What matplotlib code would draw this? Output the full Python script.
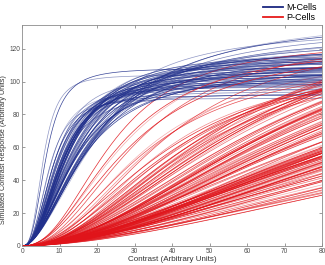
import numpy as np
import matplotlib
matplotlib.use('Agg')
import matplotlib.pyplot as plt
from matplotlib.lines import Line2D

plt.rcParams['font.family'] = ['Liberation Sans', 'DejaVu Sans']

# Naka-Rushton parameters (half-saturation contrast, max response, exponent)
blue_c50 = [5.6, 6.4, 11.4, 14.2, 9.3, 16.8, 12.0, 8.2, 15.1, 11.7,
            18.5, 10.2, 13.1, 7.4, 13.8, 10.6, 20.5, 15.6, 9.0, 12.4,
            8.7, 16.0, 11.2, 13.4, 19.0, 9.8, 14.6, 11.9, 21.5, 10.9,
            13.9, 7.9, 17.2, 12.8, 9.6, 15.3, 11.0, 17.8, 13.3, 10.1,
            12.5, 14.4, 7.0, 19.6, 10.7, 13.6, 16.3, 9.4, 12.2, 15.0,
            10.4, 17.9, 8.5, 14.0, 12.7, 16.1, 10.0, 20.0, 11.6, 15.4,
            12.1, 13.7, 9.1, 17.0, 11.3, 14.8, 12.9, 9.9, 16.6, 13.5]
blue_rmax = [104, 108, 112, 118, 102, 132, 110, 97, 115, 106,
             124, 100, 113, 95, 117, 108, 138, 111, 99, 114,
             103, 122, 107, 116, 130, 98, 112, 109, 140, 105,
             114, 92, 120, 110, 101, 121, 104, 126, 111, 96,
             113, 107, 90, 130, 102, 115, 109, 100, 116, 120,
             105, 118, 94, 108, 117, 113, 99, 134, 110, 106,
             114, 103, 98, 119, 107, 111, 116, 93, 125, 109]
blue_n = [3.0, 2.8, 2.2, 2.0, 2.4, 1.9, 2.3, 2.5, 2.1, 2.2,
          1.9, 2.4, 2.1, 2.6, 2.0, 2.3, 1.8, 2.0, 2.5, 2.2,
          2.4, 1.9, 2.3, 2.1, 1.8, 2.4, 2.0, 2.2, 1.8, 2.3,
          2.1, 2.6, 1.9, 2.2, 2.4, 2.0, 2.3, 1.9, 2.1, 2.5,
          2.2, 2.0, 2.7, 1.8, 2.3, 2.1, 1.9, 2.4, 2.2, 2.0,
          2.3, 1.9, 2.5, 2.1, 2.2, 1.9, 2.4, 1.8, 2.3, 2.0,
          2.2, 2.1, 2.5, 1.9, 2.3, 2.0, 2.2, 2.4, 1.9, 2.1]

red_c50 = [28, 95, 132, 61, 110, 148, 44, 87, 121, 70,
           102, 156, 35, 79, 139, 93, 117, 52, 126, 84,
           145, 66, 108, 24, 98, 135, 74, 113, 159, 48,
           90, 128, 57, 104, 142, 82, 31, 119, 96, 152,
           68, 111, 137, 40, 86, 124, 100, 63, 147, 77,
           115, 92, 130, 54, 106, 154, 38, 81, 122, 99,
           141, 72, 118, 26, 89, 133, 105, 59, 150, 85,
           127, 46, 97, 144, 76, 112, 33, 101, 138, 65,
           88, 157, 50, 120, 94, 131, 71, 107, 146, 42,
           83, 125, 103, 60, 140, 91, 114, 36, 129, 78,
           153, 67, 109, 29, 97, 136, 55, 116, 143, 80,
           99, 123, 47, 134, 87, 151, 73, 110, 39, 126,
           62, 106, 149, 93, 118, 32, 85, 139, 102, 56,
           131, 75, 112, 45, 155, 95, 121, 69, 104, 143]
red_rmax = [128, 170, 170, 150, 160, 150, 125, 160, 175, 150,
            155, 140, 120, 165, 165, 158, 180, 140, 158, 170,
            150, 160, 148, 125, 180, 195, 155, 152, 130, 132,
            165, 168, 150, 150, 155, 152, 128, 163, 160, 135,
            145, 158, 176, 116, 170, 160, 160, 155, 145, 155,
            170, 168, 155, 138, 165, 125, 130, 158, 150, 178,
            160, 160, 154, 122, 152, 172, 141, 148, 138, 172,
            185, 119, 170, 163, 160, 170, 115, 149, 180, 152,
            162, 128, 138, 156, 175, 164, 148, 153, 148, 121,
            155, 173, 146, 145, 168, 172, 159, 110, 162, 162,
            142, 150, 157, 122, 165, 169, 148, 147, 150, 158,
            170, 166, 124, 179, 156, 132, 160, 150, 118, 177,
            148, 155, 158, 162, 161, 114, 165, 167, 139, 142,
            159, 155, 164, 123, 124, 160, 170, 155, 156, 146]
red_n = [2.1, 1.8, 1.7, 1.9, 1.8, 1.7, 2.0, 1.9, 1.8, 2.0,
         1.8, 1.7, 2.2, 1.9, 1.7, 1.8, 1.6, 2.0, 1.8, 1.9,
         1.7, 1.9, 1.8, 2.3, 1.7, 1.6, 1.9, 1.8, 1.7, 2.1,
         1.9, 1.7, 2.0, 1.8, 1.6, 1.9, 2.2, 1.7, 1.8, 1.6,
         2.0, 1.8, 1.7, 2.1, 1.8, 1.7, 1.9, 1.9, 1.6, 2.0,
         1.7, 1.8, 1.8, 2.0, 1.7, 1.7, 2.2, 1.9, 1.8, 1.8,
         1.6, 1.9, 1.8, 2.2, 1.9, 1.7, 1.8, 2.0, 1.7, 1.8,
         1.6, 2.1, 1.8, 1.7, 1.9, 1.7, 2.1, 1.8, 1.6, 1.9,
         1.9, 1.6, 2.0, 1.8, 1.7, 1.7, 2.0, 1.8, 1.7, 2.2,
         1.9, 1.6, 1.8, 2.0, 1.7, 1.8, 1.7, 2.3, 1.8, 1.9,
         1.6, 1.9, 1.7, 2.1, 1.8, 1.7, 2.0, 1.8, 1.6, 1.9,
         1.8, 1.7, 2.1, 1.6, 1.9, 1.7, 1.9, 1.8, 2.0, 1.6,
         2.0, 1.8, 1.6, 1.9, 1.7, 2.2, 1.8, 1.7, 1.8, 2.0,
         1.7, 1.9, 1.7, 2.1, 1.6, 1.8, 1.7, 1.9, 1.8, 1.6]

contrast = np.linspace(0, 80, 321)


def response(rmax, c50, n):
    cn = contrast ** n
    return rmax * cn / (cn + c50 ** n)


blue = (0.13, 0.19, 0.55)
red = (0.88, 0.08, 0.10)
alphas = [0.35, 0.75, 0.5, 0.9, 0.6]

fig = plt.figure(figsize=(3.25, 2.65), dpi=100)
ax = fig.add_axes([0.068, 0.072, 0.923, 0.834])

for i in range(max(len(blue_c50), len(red_c50))):
    if i < len(red_c50):
        ax.plot(contrast, response(red_rmax[i], red_c50[i], red_n[i]),
                color=red, lw=0.5, alpha=alphas[i % 5])
    if i < len(blue_c50):
        ax.plot(contrast, response(blue_rmax[i], blue_c50[i], blue_n[i]),
                color=blue, lw=0.5, alpha=alphas[(i + 2) % 5])

ax.set_xlim(0, 80)
ax.set_ylim(0, 134.5)
ax.set_xticks(range(0, 81, 10))
ax.set_yticks(range(0, 121, 20))
ax.tick_params(direction='in', length=2, width=0.5, labelsize=4.7,
               colors='0.45', labelcolor='0.3', top=True, right=True, pad=1.5)
for s in ax.spines.values():
    s.set_color('0.55')
    s.set_linewidth(0.6)
ax.set_xlabel('Contrast (Arbitrary Units)', fontsize=5.8, color='0.2', labelpad=1)
ax.set_ylabel('Simulated Contrast Response (Arbitrary Units)', fontsize=5.2, color='0.2')
ax.yaxis.set_label_coords(-0.052, 0.434)

handles = [Line2D([], [], color=(0.1, 0.15, 0.5), lw=1.3),
           Line2D([], [], color=(0.9, 0.1, 0.1), lw=1.3)]
fig.legend(handles, ['M-Cells', 'P-Cells'], loc='upper right',
           bbox_to_anchor=(1.0, 1.02), frameon=False, fontsize=6.5,
           handlelength=2.2, handletextpad=0.4, labelspacing=0.15)

fig.savefig('out.png', dpi=100)
